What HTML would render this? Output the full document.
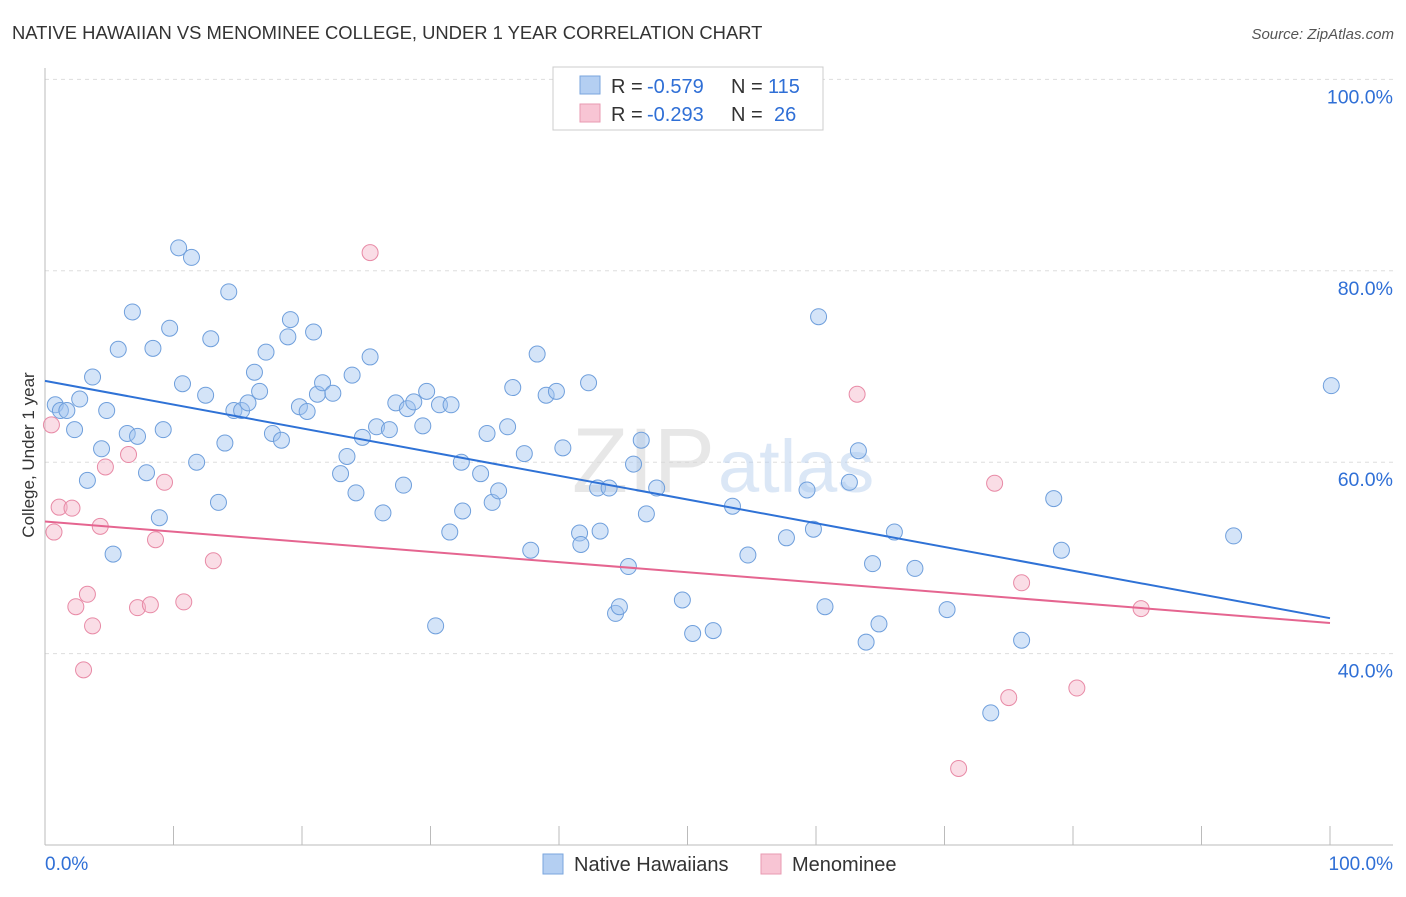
<!DOCTYPE html>
<html><head><meta charset="utf-8"><style>
body{margin:0;background:#fff;font-family:"Liberation Sans",sans-serif;}
svg text{font-family:"Liberation Sans",sans-serif;}
</style></head><body>
<svg id="chart" width="1406" height="892" xmlns="http://www.w3.org/2000/svg">
<text x="12" y="39" font-size="18.4" fill="#333">NATIVE HAWAIIAN VS MENOMINEE COLLEGE, UNDER 1 YEAR CORRELATION CHART</text>
<text x="1394" y="39" font-size="15" fill="#555" font-style="italic" text-anchor="end">Source: ZipAtlas.com</text>
<g id="grid"></g>
<text x="715" y="492" font-size="92" fill="#d8d8d8" text-anchor="end" font-family="Liberation Serif" opacity="0.6">ZIP</text>
<text x="718" y="492" font-size="74" fill="#b8d0ee" opacity="0.5">atlas</text>
<g id="axes"></g>
<g id="marks"></g>
<text transform="translate(34,455) rotate(-90)" font-size="17" fill="#333" text-anchor="middle">College, Under 1 year</text>
<g>
<rect x="553" y="67" width="270" height="63" fill="#fff" stroke="#ccc"/>
<rect x="580" y="76" width="20" height="18" fill="#b4cff2" stroke="#7aa6de"/>
<rect x="580" y="104" width="20" height="18" fill="#f8c5d4" stroke="#e89ab2"/>
<text x="611" y="93" font-size="20" fill="#333">R =</text>
<text x="647" y="93" font-size="20" fill="#2f6fd6">-0.579</text>
<text x="731" y="93" font-size="20" fill="#333">N =</text>
<text x="768" y="93" font-size="20" fill="#2f6fd6">115</text>
<text x="611" y="121" font-size="20" fill="#333">R =</text>
<text x="647" y="121" font-size="20" fill="#2f6fd6">-0.293</text>
<text x="731" y="121" font-size="20" fill="#333">N =</text>
<text x="774" y="121" font-size="20" fill="#2f6fd6">26</text>
</g>
<g>
<rect x="543" y="854" width="20" height="20" fill="#b4cff2" stroke="#7aa6de"/>
<text x="574" y="871" font-size="20" fill="#333">Native Hawaiians</text>
<rect x="761" y="854" width="20" height="20" fill="#f8c5d4" stroke="#e89ab2"/>
<text x="792" y="871" font-size="20" fill="#333">Menominee</text>
</g>
</svg>
<script>
const blueX=[0.8,1.2,1.7,2.3,2.7,3.3,3.7,4.4,4.8,5.3,5.7,6.4,6.8,7.2,7.9,8.4,8.9,9.2,9.7,10.4,10.7,11.4,11.8,12.5,12.9,13.5,14.0,14.3,14.7,15.3,15.8,16.3,16.7,17.2,17.7,18.4,18.9,19.1,19.8,20.4,20.9,21.2,21.6,22.4,23.0,23.5,23.9,24.2,24.7,25.3,25.8,26.3,26.8,27.3,27.9,28.2,28.7,29.4,29.7,30.4,30.7,31.6,31.5,32.4,32.5,33.9,34.4,34.8,35.3,36.0,36.4,37.3,37.8,38.3,39.0,39.8,40.3,41.6,41.7,42.3,43.0,43.2,43.9,44.4,44.7,45.4,45.8,46.4,46.8,47.6,49.6,50.4,52.0,53.5,54.7,57.7,59.3,59.8,60.2,60.7,62.6,63.3,63.9,64.4,64.9,66.1,67.7,70.2,73.6,76.0,78.5,79.1,92.5,100.1];
const blueY=[66.0,65.4,65.4,63.4,66.6,58.1,68.9,61.4,65.4,50.4,71.8,63.0,75.7,62.7,58.9,71.9,54.2,63.4,74.0,82.4,68.2,81.4,60.0,67.0,72.9,55.8,62.0,77.8,65.4,65.4,66.2,69.4,67.4,71.5,63.0,62.3,73.1,74.9,65.8,65.3,73.6,67.1,68.3,67.2,58.8,60.6,69.1,56.8,62.6,71.0,63.7,54.7,63.4,66.2,57.6,65.6,66.3,63.8,67.4,42.9,66.0,66.0,52.7,60.0,54.9,58.8,63.0,55.8,57.0,63.7,67.8,60.9,50.8,71.3,67.0,67.4,61.5,52.6,51.4,68.3,57.3,52.8,57.3,44.2,44.9,49.1,59.8,62.3,54.6,57.3,45.6,42.1,42.4,55.4,50.3,52.1,57.1,53.0,75.2,44.9,57.9,61.2,41.2,49.4,43.1,52.7,48.9,44.6,33.8,41.4,56.2,50.8,52.3,68.0];
const pinkX=[0.5,0.7,1.1,2.1,2.4,3.0,3.3,3.7,4.3,4.7,6.5,7.2,8.2,8.6,9.3,10.8,13.1,25.3,63.2,71.1,73.9,75.0,76.0,80.3,85.3];
const pinkY=[63.9,52.7,55.3,55.2,44.9,38.3,46.2,42.9,53.3,59.5,60.8,44.8,45.1,51.9,57.9,45.4,49.7,81.9,67.1,28.0,57.8,35.4,47.4,36.4,44.7];
const blueTrend=[68.5,43.7];
const pinkTrend=[53.8,43.2];
const yTicks=[40,60,80,100];
const yTickLabels=["40.0%","60.0%","80.0%","100.0%"];

const NS="http://www.w3.org/2000/svg";
const xs=v=>45+v*12.85;
const ys=v=>845-(v-20)*9.57;
function mk(tag,attrs,parent){const e=document.createElementNS(NS,tag);for(const k in attrs)e.setAttribute(k,attrs[k]);parent.appendChild(e);return e;}
const grid=document.getElementById('grid'),axes=document.getElementById('axes'),marks=document.getElementById('marks');
yTicks.forEach((t,i)=>{
 const l=mk('line',{x1:45,x2:1393,y1:ys(t),y2:ys(t),stroke:'#ddd','stroke-dasharray':'4,4'},grid);
 
 
 const tx=mk('text',{x:1393,y:ys(t)+24,'font-size':19.5,fill:'#2f6fd6','text-anchor':'end'},axes);
 tx.textContent=yTickLabels[i];
 
 
});
const ya=mk('line',{x1:45,x2:45,y1:68,y2:845,stroke:'#bbb'},axes);


const xa=mk('line',{x1:45,x2:1393,y1:845,y2:845,stroke:'#bbb'},axes);


for(let i=0;i<=10;i++){
 const tk=mk('line',{x1:xs(i*10),x2:xs(i*10),y1:826,y2:845,stroke:'#bbb'},axes);
 
 
}
const xl0=mk('text',{x:45,y:870,'font-size':19,fill:'#2f6fd6'},axes);xl0.textContent='0.0%';


const xl1=mk('text',{x:1393,y:870,'font-size':19,fill:'#2f6fd6','text-anchor':'end'},axes);xl1.textContent='100.0%';


blueX.forEach((x,i)=>{
 const c=mk('circle',{cx:xs(x),cy:ys(blueY[i]),r:8,fill:'rgba(160,195,240,0.45)',stroke:'#6f9fdc','stroke-width':1},marks);
 
 
});
pinkX.forEach((x,i)=>{
 const c=mk('circle',{cx:xs(x),cy:ys(pinkY[i]),r:8,fill:'rgba(245,180,200,0.45)',stroke:'#e88aa6','stroke-width':1},marks);
 
 
});
const bt=mk('line',{x1:xs(0),y1:ys(blueTrend[0]),x2:xs(100),y2:ys(blueTrend[1]),stroke:'#2f72d6','stroke-width':2},marks);


const pt=mk('line',{x1:xs(0),y1:ys(pinkTrend[0]),x2:xs(100),y2:ys(pinkTrend[1]),stroke:'#e56590','stroke-width':2},marks);


</script>
</body></html>
